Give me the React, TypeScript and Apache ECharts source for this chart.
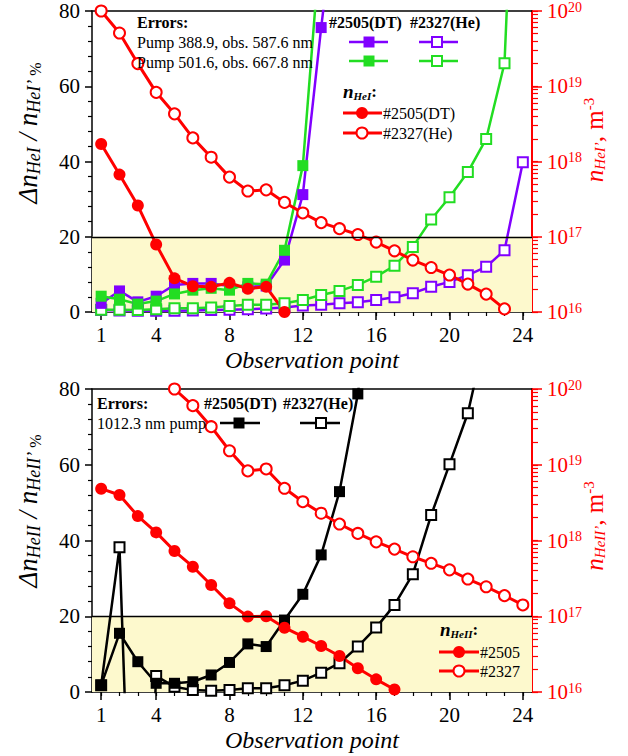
import React, { useEffect, useRef } from "react";
import * as echarts from "echarts";

const SERIF = "'Liberation Serif', 'Times New Roman', Times, serif";
const RED = "#ff0000";
const VIOLET = "#8000ff";
const GREEN = "#22dd22";
const BLACK = "#000000";
const SHADE = "#fdf9cd";

// Observation points (x)
const points = [1, 2, 3, 4, 5, 6, 7, 8, 9, 10, 11, 12, 13, 14, 15, 16, 17, 18, 19, 20, 21, 22, 23, 24];
const xTickLabels = [1, 4, 8, 12, 16, 20, 24];
const percentRange = [0, 80];
const percentStep = 20;
const densityRange = [1e16, 1e20];
const shadeLimit = 20;

// ---- Top panel: He I ----
// n_HeI (m^-3), right log axis
const nHeI_DT = [1.71e18, 6.7e17, 2.6e17, 7.9e16, 2.8e16, 2.2e16, 2.16e16, 2.44e16, 2.04e16, 2.16e16, 1.0e16, null, null, null, null, null, null, null, null, null, null, null, null, null];
const nHeI_He = [1.0e20, 5.1e19, 2.0e19, 8.3e18, 4.3e18, 2.06e18, 1.14e18, 6.2e17, 4.05e17, 4.2e17, 2.86e17, 2.07e17, 1.54e17, 1.28e17, 1.07e17, 8.5e16, 6.5e16, 4.9e16, 3.9e16, 3.1e16, 2.35e16, 1.73e16, 1.1e16, null];
// errors (%), left axis
const err388_DT = [2.3, 5.6, 2.7, 4.2, 7.2, 7.6, 7.6, 6.9, 6.7, 6.9, 13.8, 31.2, 75.6, 116, null, null, null, null, null, null, null, null, null, null];
const err501_DT = [4.2, 3.4, 2.1, 2.9, 4.8, 5.8, 6.3, 5.8, 7.6, 7.4, 16.4, 38.9, 101, null, null, null, null, null, null, null, null, null, null, null];
const err388_He = [0.5, 0.4, 0.3, 0.3, 0.3, 0.4, 0.5, 0.6, 0.7, 0.9, 1.2, 1.7, 1.9, 2.3, 2.6, 3.2, 3.9, 5.0, 6.7, 8.0, 9.8, 12.0, 16.4, 39.8];
const err501_He = [0.6, 0.6, 0.5, 0.7, 1.0, 1.0, 1.2, 1.6, 1.9, 1.9, 2.3, 3.2, 4.5, 5.6, 7.2, 9.4, 12.3, 17.3, 24.6, 30.5, 37.2, 46.0, 66.1, 180];

// ---- Bottom panel: He II ----
const nHeII_DT = [4.83e18, 3.99e18, 2.1e18, 1.28e18, 7.26e17, 4.51e17, 2.59e17, 1.48e17, 9.9e16, 1.0e17, 7.06e16, 5.37e16, 4.05e16, 2.99e16, 2.06e16, 1.47e16, 1.08e16, null, null, null, null, null, null, null];
const nHeII_He = [null, null, null, null, 1.0e20, 6.03e19, 3.18e19, 1.53e19, 8.3e18, 8.8e18, 4.89e18, 3.25e18, 2.29e18, 1.65e18, 1.24e18, 9.6e17, 7.7e17, 6.1e17, 5.0e17, 4.1e17, 3.1e17, 2.45e17, 1.87e17, 1.41e17];
const err1012_DT = [1.8, 15.5, 8.0, 2.3, 2.3, 2.7, 4.5, 7.8, 12.7, 12.0, 19.0, 25.8, 36.2, 52.9, 78.7, 120, null, null, null, null, null, null, null, null];
const err1012_He = [1.8, 38.2, -100, 4.2, 1.4, 0.5, 0.3, 0.5, 1.0, 1.0, 1.8, 3.0, 5.1, 7.6, 12.0, 17.0, 23.0, 31.1, 46.7, 60.1, 73.6, 95, null, null];

// minor tick positions for the log axis (in log10 space)
const minorLogTicks: number[] = [];
for (let d = 16; d < 20; d++) {
  for (let k = 1; k <= 9; k++) minorLogTicks.push(d + Math.log10(k));
}
minorLogTicks.push(20);

function axesFor(gi: number) {
  const xMain = {
    gridIndex: gi, type: "value", min: 0.5, max: 24.5, position: "bottom",
    axisLine: { show: true, onZero: false, lineStyle: { color: BLACK, width: 1.5 } },
    axisTick: { show: true, length: 8, lineStyle: { color: BLACK, width: 1.5 }, customValues: xTickLabels },
    axisLabel: { show: true, customValues: xTickLabels, fontSize: 21, fontFamily: SERIF, color: BLACK, margin: 13, lineHeight: 20 },
    splitLine: { show: false },
  };
  const xMinor = {
    gridIndex: gi, type: "value", min: 0.5, max: 24.5, position: "bottom",
    axisLine: { show: false },
    axisTick: { show: true, length: 4, lineStyle: { color: BLACK, width: 1.2 }, customValues: points },
    axisLabel: { show: false },
    splitLine: { show: false },
  };
  const xTop = {
    gridIndex: gi, type: "value", min: 0.5, max: 24.5, position: "top",
    axisLine: { show: true, onZero: false, lineStyle: { color: BLACK, width: 1.5 } },
    axisTick: { show: false }, axisLabel: { show: false }, splitLine: { show: false },
  };
  const yLeft = {
    gridIndex: gi, type: "value", min: percentRange[0], max: percentRange[1], interval: percentStep, position: "left",
    axisLine: { show: true, onZero: false, lineStyle: { color: BLACK, width: 1.5 } },
    axisTick: { show: true, length: 7, lineStyle: { color: BLACK, width: 1.5 } },
    minorTick: { show: true, splitNumber: 5, length: 4, lineStyle: { color: BLACK, width: 1.2 } },
    axisLabel: { fontSize: 21, fontFamily: SERIF, color: BLACK, margin: 12 },
    splitLine: { show: false }, minorSplitLine: { show: false },
  };
  const yRight = {
    gridIndex: gi, type: "log", logBase: 10, min: densityRange[0], max: densityRange[1], position: "right",
    axisLine: { show: true, onZero: false, lineStyle: { color: RED, width: 2 } },
    axisTick: { show: true, length: 10, lineStyle: { color: RED, width: 1.5 } },
    axisLabel: {
      margin: 15,
      formatter: (v: number) => `{a|10}{s|${Math.round(Math.log10(v))}}`,
      rich: {
        a: { fontSize: 21, fontFamily: SERIF, color: RED, lineHeight: 22 },
        s: { fontSize: 14, fontFamily: SERIF, color: RED, lineHeight: 12, verticalAlign: "top" },
      },
    },
    splitLine: { show: false },
  };
  const yRightMinor = {
    gridIndex: gi, type: "value", min: 16, max: 20, position: "right",
    axisLine: { show: false },
    axisTick: { show: true, length: 6, lineStyle: { color: RED, width: 1.2 }, customValues: minorLogTicks },
    axisLabel: { show: false }, splitLine: { show: false },
  };
  return { x: [xMain, xMinor, xTop], y: [yLeft, yRight, yRightMinor] };
}

function line(name: string, values: (number | null)[], xi: number, yi: number, color: string, symbol: string, filled: boolean, size: number, width = 2.5) {
  return {
    type: "line", name, xAxisIndex: xi, yAxisIndex: yi,
    data: points.map((p, i) => [p, values[i]]),
    symbol, symbolSize: size, showSymbol: true, clip: true, connectNulls: false,
    lineStyle: { color, width },
    itemStyle: { color: filled ? color : "#ffffff", borderColor: color, borderWidth: filled ? 0 : 2, opacity: 1 },
    emphasis: { disabled: true },
    z: 3,
  };
}

function shade(xi: number, yi: number) {
  return {
    type: "line", xAxisIndex: xi, yAxisIndex: yi, data: [], silent: true, z: 1,
    markArea: { silent: true, itemStyle: { color: SHADE }, data: [[{ yAxis: percentRange[0] }, { yAxis: shadeLimit }]] },
    markLine: { silent: true, symbol: "none", label: { show: false }, lineStyle: { color: BLACK, width: 1.3, type: "solid" }, data: [{ yAxis: shadeLimit }] },
  };
}

const txtBase = { fontFamily: SERIF, fill: BLACK };
function text(x: number, y: number, t: string, extra: any = {}) {
  return {
    type: "text", x, y, silent: true, z: 50,
    style: { ...txtBase, text: t, fontSize: 16, align: "left", verticalAlign: "middle", textAlign: "left", textVerticalAlign: "middle", ...extra },
  };
}
function legLine(x1: number, x2: number, y: number, color: string, w = 2.5) {
  return { type: "line", silent: true, z: 50, shape: { x1, y1: y, x2, y2: y }, style: { stroke: color, lineWidth: w } };
}
function legSquare(cx: number, cy: number, color: string, filled: boolean, s = 10) {
  return { type: "rect", silent: true, z: 51, shape: { x: cx - s / 2, y: cy - s / 2, width: s, height: s }, style: { fill: filled ? color : "#fff", stroke: color, lineWidth: filled ? 0 : 2 } };
}
function legCircle(cx: number, cy: number, color: string, filled: boolean, r = 6) {
  return { type: "circle", silent: true, z: 51, shape: { cx, cy, r }, style: { fill: filled ? color : "#fff", stroke: color, lineWidth: filled ? 0 : 2 } };
}

function richTitle(x: number, y: number, t: string, color: string, rich: any) {
  return {
    type: "text", x, y, rotation: Math.PI / 2, silent: true, z: 50,
    style: { text: t, fill: color, fontFamily: SERIF, align: "center", verticalAlign: "middle", textAlign: "center", textVerticalAlign: "middle", rich },
  };
}

const leftRich = {
  m: { fontFamily: SERIF, fontStyle: "italic", fontSize: 27, lineHeight: 30, fill: BLACK, color: BLACK },
  s: { fontFamily: SERIF, fontStyle: "italic", fontSize: 18, lineHeight: 12, verticalAlign: "bottom", fill: BLACK, color: BLACK },
  p: { fontFamily: SERIF, fontSize: 16, lineHeight: 26, verticalAlign: "bottom", fill: BLACK, color: BLACK },
};
const rightRich = {
  m: { fontFamily: SERIF, fontStyle: "italic", fontSize: 25, lineHeight: 26, fill: RED, color: RED },
  r: { fontFamily: SERIF, fontSize: 25, lineHeight: 26, fill: RED, color: RED },
  s: { fontFamily: SERIF, fontStyle: "italic", fontSize: 15, lineHeight: 10, verticalAlign: "bottom", fill: RED, color: RED },
  p: { fontFamily: SERIF, fontSize: 15, lineHeight: 10, verticalAlign: "top", fill: RED, color: RED },
};
const legRich = (color: string) => ({
  n: { fontFamily: SERIF, fontStyle: "italic", fontWeight: "bold", fontSize: 19, lineHeight: 20, fill: color },
  s: { fontFamily: SERIF, fontStyle: "italic", fontWeight: "bold", fontSize: 11, lineHeight: 8, verticalAlign: "bottom", fill: color },
  c: { fontFamily: SERIF, fontWeight: "bold", fontSize: 17, lineHeight: 20, fill: color },
});

export default function App() {
  const ref = useRef<HTMLDivElement>(null);
  useEffect(() => {
    if (!ref.current) return;
    const chart = echarts.init(ref.current, undefined, { renderer: "svg" });
    const a0 = axesFor(0);
    const a1 = axesFor(1);
    const option: any = {
      animation: false,
      backgroundColor: "#ffffff",
      grid: [
        { left: 92, top: 10, width: 440, height: 302, show: false },
        { left: 92, top: 389, width: 440, height: 303, show: false },
      ],
      xAxis: [...a0.x, ...a1.x],
      yAxis: [...a0.y, ...a1.y],
      series: [
        shade(0, 0),
        line("388.9 He", err388_He, 0, 0, VIOLET, "rect", false, 10),
        line("501.6 He", err501_He, 0, 0, GREEN, "rect", false, 10),
        line("388.9 DT", err388_DT, 0, 0, VIOLET, "rect", true, 11),
        line("501.6 DT", err501_DT, 0, 0, GREEN, "rect", true, 11),
        line("nHeI DT", nHeI_DT, 0, 1, RED, "circle", true, 12, 3),
        line("nHeI He", nHeI_He, 0, 1, RED, "circle", false, 11, 3),
        shade(3, 3),
        line("1012.3 He", err1012_He, 3, 3, BLACK, "rect", false, 10),
        line("1012.3 DT", err1012_DT, 3, 3, BLACK, "rect", true, 11),
        line("nHeII DT", nHeII_DT, 3, 4, RED, "circle", true, 12, 3),
        line("nHeII He", nHeII_He, 3, 4, RED, "circle", false, 11, 3),
      ],
      graphic: {
        elements: [
          // axis titles
          richTitle(28, 133, "{m|Δn}{s|HeI}{m| / n}{s|HeI’}{p| %}", BLACK, leftRich),
          richTitle(28, 511, "{m|Δn}{s|HeII}{m| / n}{s|HeII’}{p| %}", BLACK, leftRich),
          richTitle(594, 140, "{m|n}{s|HeI’}{r|, m}{p|-3}", RED, rightRich),
          richTitle(594, 526, "{m|n}{s|HeII’}{r|, m}{p|-3}", RED, rightRich),
          text(312, 360, "Observation point", { fontSize: 24, fontStyle: "italic", align: "center", textAlign: "center", lineHeight: 20 }),
          text(312, 740, "Observation point", { fontSize: 24, fontStyle: "italic", align: "center", textAlign: "center", lineHeight: 20 }),
          // top legend
          text(137, 22, "Errors:", { fontWeight: "bold" }),
          text(137, 42, "Pump 388.9, obs. 587.6 nm"),
          text(137, 62, "Pump 501.6, obs. 667.8 nm"),
          text(329, 22, "#2505(DT)", { fontWeight: "bold" }),
          text(410, 22, "#2327(He)", { fontWeight: "bold" }),
          legLine(349, 388, 42, VIOLET), legSquare(369, 42, VIOLET, true, 11),
          legLine(419, 458, 42, VIOLET), legSquare(437, 42, VIOLET, false),
          legLine(349, 388, 61, GREEN), legSquare(369, 61, GREEN, true, 11),
          legLine(419, 458, 61, GREEN), legSquare(437, 61, GREEN, false),
          { type: "text", x: 343, y: 91, silent: true, z: 50, style: { text: "{n|n}{s|HeI}{c|:}", align: "left", verticalAlign: "middle", textAlign: "left", textVerticalAlign: "middle", rich: legRich(BLACK) } },
          legLine(343, 382, 113, RED, 3), legCircle(362, 113, RED, true),
          text(383, 113, "#2505(DT)"),
          legLine(343, 382, 133, RED, 3), legCircle(362, 133, RED, false, 5.5),
          text(383, 133, "#2327(He)"),
          // bottom legend
          text(97, 403, "Errors:", { fontWeight: "bold" }),
          text(97, 423, "1012.3 nm pump"),
          text(204, 403, "#2505(DT)", { fontWeight: "bold" }),
          text(283, 403, "#2327(He)", { fontWeight: "bold" }),
          legLine(220, 260, 423, BLACK), legSquare(239, 423, BLACK, true, 11),
          legLine(300, 340, 423, BLACK), legSquare(321, 423, BLACK, false),
          { type: "text", x: 440, y: 629, silent: true, z: 50, style: { text: "{n|n}{s|HeII}{c|:}", align: "left", verticalAlign: "middle", textAlign: "left", textVerticalAlign: "middle", rich: legRich(BLACK) } },
          legLine(439, 479, 652, RED, 3), legCircle(459, 652, RED, true),
          text(480, 652, "#2505"),
          legLine(439, 479, 671, RED, 3), legCircle(459, 671, RED, false, 5.5),
          text(480, 671, "#2327"),
        ],
      },
    };
    chart.setOption(option);
    return () => chart.dispose();
  }, []);
  return (
    <div
      ref={ref}
      style={{ position: "fixed", left: 0, top: 0, width: 628, height: 756, background: "#fff" }}
    />
  );
}
